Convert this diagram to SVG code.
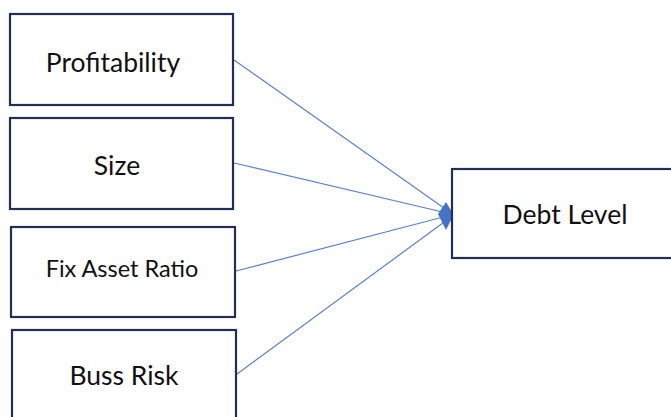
<svg xmlns="http://www.w3.org/2000/svg" width="671" height="417" viewBox="0 0 671 417">
<style>
.box{fill:#fff;stroke:#1f3055;stroke-width:2.2}
.lbl{font-family:Lato,"Open Sans",sans-serif;font-size:26.5px;fill:#111;text-anchor:middle}
.conn{stroke:#5b82c8;stroke-width:1.2;fill:none}
</style>
<rect width="671" height="417" fill="#fff"/>
<g id="connectors">
<line class="conn" x1="234" y1="60" x2="451" y2="213"/>
<line class="conn" x1="234" y1="163" x2="451" y2="214"/>
<line class="conn" x1="236" y1="271" x2="451" y2="215"/>
<line class="conn" x1="237" y1="374" x2="451" y2="217"/>
<path d="M438,214 L446,202 L452,212 L452,218 L446,230 Z" fill="#4472c4"/>
</g>
<g id="profitability">
<rect class="box" x="10" y="14" width="223" height="91"/>
<text class="lbl" x="113" y="72">Profitability</text>
</g>
<g id="size">
<rect class="box" x="10" y="118" width="223" height="91"/>
<text class="lbl" x="117" y="175">Size</text>
</g>
<g id="fix-asset-ratio">
<rect class="box" x="11" y="227" width="224" height="90"/>
<text class="lbl" x="122" y="277" style="font-size:23.5px">Fix Asset Ratio</text>
</g>
<g id="buss-risk">
<rect class="box" x="12" y="330" width="224" height="95"/>
<text class="lbl" x="124" y="385">Buss Risk</text>
</g>
<g id="debt-level">
<rect class="box" x="452" y="169" width="225" height="89"/>
<text class="lbl" x="565" y="224">Debt Level</text>
</g>
</svg>
